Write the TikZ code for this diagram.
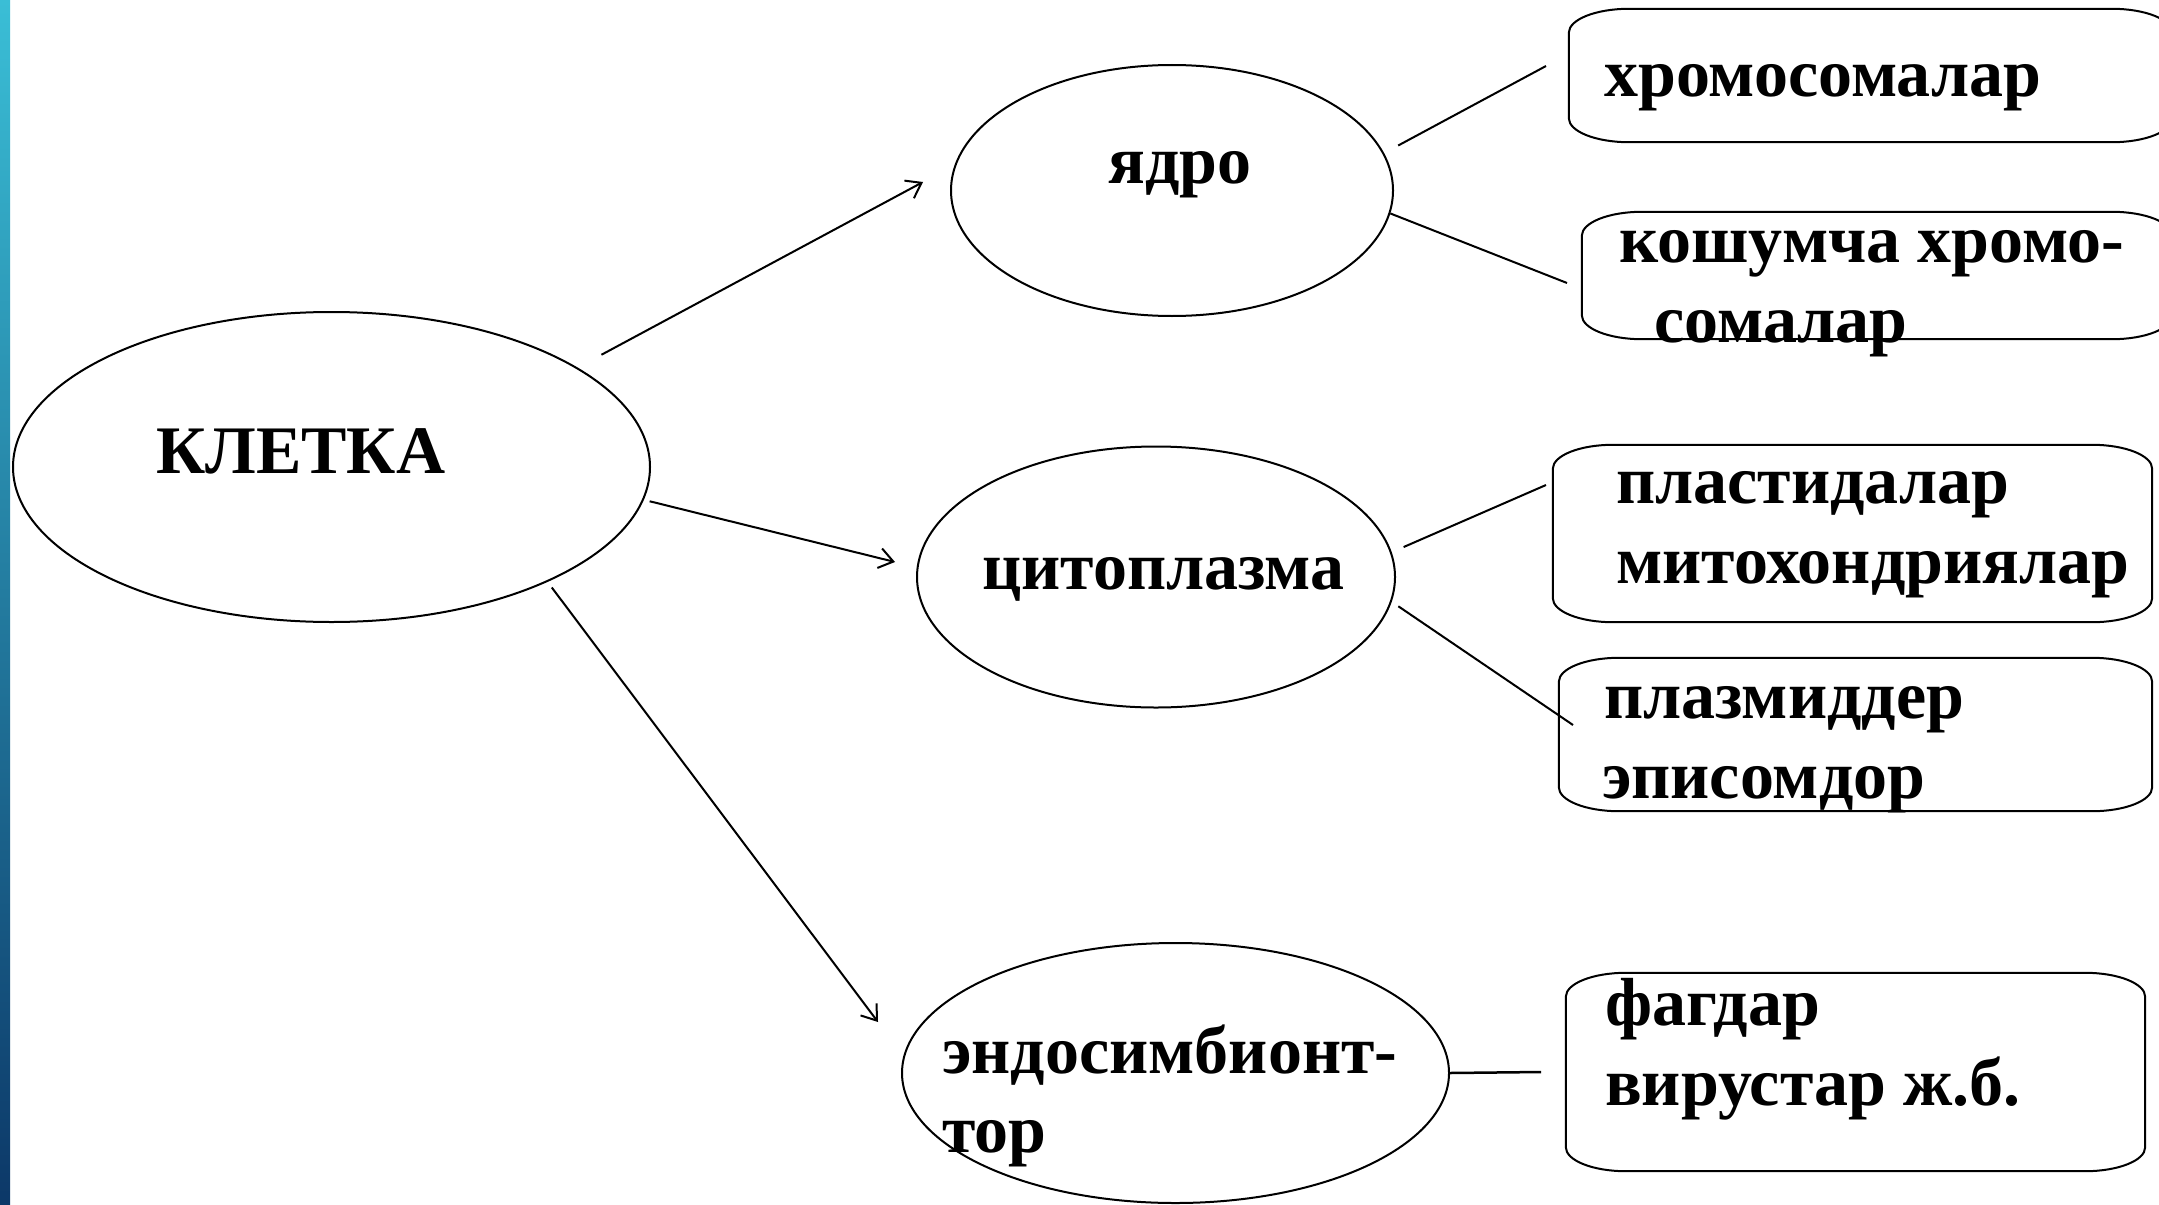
\documentclass[tikz,border=0pt]{standalone}
\usepackage{fontspec}
\setmainfont{Liberation Serif}
\usetikzlibrary{shapes.geometric,arrows.meta}
\def\brx{60pt}\def\bry{24pt}\def\bkx{27pt}\def\bky{10.7pt}
\newcommand\drawovalbox[1]{%
\draw[boxline] ([xshift=\brx]#1.north west) -- ([xshift=-\brx]#1.north east)
 .. controls ([xshift=-\bkx]#1.north east) and ([yshift=-\bky]#1.north east) .. ([yshift=-\bry]#1.north east)
 -- ([yshift=\bry]#1.south east)
 .. controls ([yshift=\bky]#1.south east) and ([xshift=-\bkx]#1.south east) .. ([xshift=-\brx]#1.south east)
 -- ([xshift=\brx]#1.south west)
 .. controls ([xshift=\bkx]#1.south west) and ([yshift=\bky]#1.south west) .. ([yshift=\bry]#1.south west)
 -- ([yshift=-\bry]#1.north west)
 .. controls ([yshift=-\bky]#1.north west) and ([xshift=\bkx]#1.north west) .. cycle;}
\begin{document}
\begin{tikzpicture}[x=1pt,y=-1pt,
  oval/.style={draw, ellipse, line width=2pt, inner sep=0pt},
  boxarea/.style={rectangle, inner sep=0pt, draw=none},
  boxline/.style={line width=2pt},
  link/.style={line width=2pt},
  arr/.style={line width=2pt, -{Straight Barb[length=14pt,width=20pt,line width=2pt]}},
  lbl/.style={font=\fontsize{68}{78}\selectfont\bfseries, inner sep=0pt, anchor=base west}]

\useasboundingbox (0,0) rectangle (2159,1204);
\clip (0,0) rectangle (2159,1204);
\fill[white] (0,0) rectangle (2159,1204);
\shade[top color={rgb,255:red,58;green,190;blue,214}, bottom color={rgb,255:red,12;green,56;blue,104}] (0,0) rectangle (10,1204);

% ellipses
\node[oval, minimum width=637pt, minimum height=310pt] (cell) at (331.5,467) {};
\node[oval, minimum width=442pt, minimum height=251pt] (yadro) at (1172,190.5) {};
\node[oval, minimum width=478pt, minimum height=261pt] (cyto) at (1156,577) {};
\node[oval, minimum width=547pt, minimum height=260pt] (endo) at (1175.5,1073) {};

% boxes
\node[boxarea, minimum width=603pt, minimum height=133pt] (b1) at (1870.5,75.5) {};
\node[boxarea, minimum width=590pt, minimum height=127pt] (b2) at (1877,275.5) {};
\node[boxarea, minimum width=599pt, minimum height=177pt] (b3) at (1852.5,533.5) {};
\node[boxarea, minimum width=593pt, minimum height=153pt] (b4) at (1855.5,734.5) {};
\node[boxarea, minimum width=579pt, minimum height=198pt] (b5) at (1855.5,1072) {};
\drawovalbox{b1}
\drawovalbox{b2}
\drawovalbox{b3}
\drawovalbox{b4}
\drawovalbox{b5}

% texts
\node[lbl] (tcell) at (156,473) {КЛЕТКА};
\node[lbl] (tyadro) at (1108,183) {ядро};
\node[lbl] (tcyto) at (982,589) {цитоплазма};
\node[lbl] (tendo1) at (942,1073) {эндосимбионт-};
\node[lbl] (tendo2) at (942,1152) {тор};
\node[lbl] (t1) at (1604,97) {хромосомалар};
\node[lbl] (t2a) at (1619,262) {кошумча хромо-};
\node[lbl] (t2b) at (1654,342) {сомалар};
\node[lbl] (t3a) at (1616,503) {пластидалар};
\node[lbl] (t3b) at (1616,583) {митохондриялар};
\node[lbl] (t4a) at (1604,718) {плазмиддер};
\node[lbl] (t4b) at (1602,798) {эписомдор};
\node[lbl] (t5a) at (1605,1025) {фагдар};
\node[lbl] (t5b) at (1605,1105) {вирустар ж.б.};

% free ends
\coordinate (a1) at (923,182);
\coordinate (a2) at (895,562);
\coordinate (a3) at (878,1022);
\coordinate (e1) at (1546,66);
\coordinate (e2) at (1567,283);
\coordinate (e3) at (1546,485);
\coordinate (e4) at (1573,725);
\coordinate (e5) at (1541,1072);

% arrows
\draw[arr, shorten <=27pt] (cell.22) -- (a1);
\draw[arr, shorten <=6pt] (cell.-6) -- (a2);
\draw[arr, shorten <=7pt] (cell.-28) -- (a3);

% links
\draw[link, shorten <=16pt] (yadro.10) -- (e1);
\draw[link] (yadro.-6) -- (e2);
\draw[link, shorten <=13pt] (cyto.6) -- (e3);
\draw[link, shorten <=8pt] (cyto.-6) -- (e4);
\draw[link, line width=2.5pt] (endo.east) -- (e5);
\end{tikzpicture}
\end{document}
